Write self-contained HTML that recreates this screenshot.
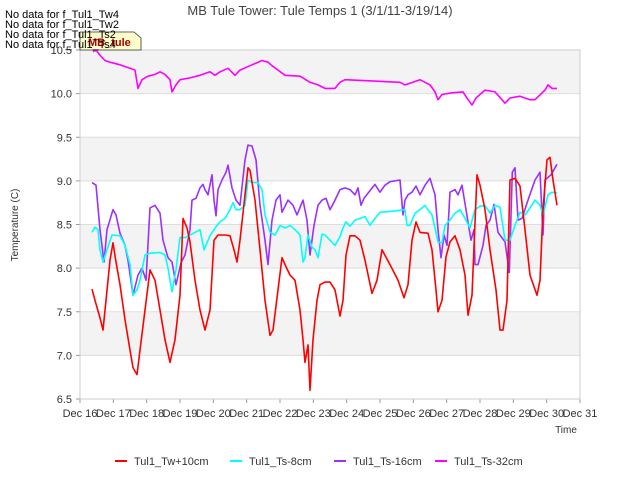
<!DOCTYPE html>
<html><head><meta charset="utf-8"><style>
body{margin:0;background:#fff;font-family:"Liberation Sans",sans-serif}
svg{display:block}
text{font-family:"Liberation Sans",sans-serif}
</style></head><body>
<svg id="c" width="640" height="480" xmlns="http://www.w3.org/2000/svg"></svg>
<script>
const xTicks=["Dec 16","Dec 17","Dec 18","Dec 19","Dec 20","Dec 21","Dec 22","Dec 23","Dec 24","Dec 25","Dec 26","Dec 27","Dec 28","Dec 29","Dec 30","Dec 31"];
const yTicks=[6.5,7.0,7.5,8.0,8.5,9.0,9.5,10.0,10.5];
const redDays=[.36,.45,.60,.69,.78,.90,.99,1.08,1.20,1.35,1.50,1.59,1.71,1.80,1.95,2.10,2.25,2.40,2.55,2.70,2.85,3.00,3.09,3.21,3.30,3.45,3.60,3.75,3.90,4.02,4.14,4.35,4.50,4.62,4.71,4.80,4.95,5.04,5.10,5.25,5.40,5.55,5.70,5.79,5.94,6.06,6.15,6.30,6.45,6.60,6.69,6.75,6.84,6.90,6.99,7.11,7.20,7.35,7.50,7.65,7.80,7.89,7.98,8.10,8.25,8.40,8.55,8.76,8.91,9.06,9.30,9.54,9.72,9.84,9.96,10.08,10.20,10.44,10.56,10.68,10.74,10.86,10.98,11.10,11.25,11.40,11.55,11.64,11.76,11.91,12.00,12.15,12.30,12.48,12.60,12.69,12.81,12.90,13.05,13.20,13.35,13.50,13.71,13.80,13.89,14.01,14.10,14.19,14.31];
const redVals=[7.76,7.63,7.43,7.29,7.63,8.09,8.29,8.07,7.81,7.41,7.06,6.86,6.78,7.06,7.52,7.98,7.86,7.52,7.18,6.92,7.18,7.69,8.57,8.46,8.30,7.86,7.52,7.29,7.52,8.32,8.38,8.38,8.37,8.21,8.07,8.32,8.84,9.15,9.12,8.78,8.21,7.63,7.23,7.29,7.75,8.12,8.04,7.92,7.86,7.52,7.18,6.92,7.12,6.60,7.18,7.63,7.81,7.84,7.84,7.75,7.45,7.63,8.15,8.37,8.37,8.32,8.09,7.71,7.86,8.21,8.04,7.86,7.66,7.81,8.32,8.53,8.41,8.40,8.21,7.75,7.50,7.63,8.13,8.30,8.37,8.21,7.92,7.46,7.69,9.07,8.95,8.67,8.21,7.75,7.29,7.29,7.63,9.01,9.03,8.94,8.44,7.92,7.69,7.86,8.67,9.24,9.27,9.01,8.72];
const cyanDays=[.36,.45,.54,.60,.69,.81,.96,1.20,1.35,1.50,1.59,1.71,1.80,1.95,2.10,2.40,2.55,2.64,2.76,2.88,3.00,3.15,3.45,3.60,3.72,3.90,4.05,4.20,4.35,4.50,4.59,4.68,4.80,4.95,5.04,5.16,5.34,5.46,5.55,5.70,5.85,6.00,6.15,6.30,6.45,6.60,6.69,6.75,6.84,6.96,7.05,7.14,7.26,7.35,7.50,7.65,7.80,7.89,7.98,8.10,8.25,8.40,8.55,8.70,8.85,9.00,9.30,9.75,9.81,9.90,10.05,10.20,10.35,10.44,10.56,10.68,10.74,10.86,10.95,11.10,11.25,11.40,11.55,11.70,11.85,12.00,12.15,12.30,12.45,12.60,12.75,12.90,13.05,13.20,13.35,13.50,13.65,13.80,13.89,14.04,14.16,14.31];
const cyanVals=[8.41,8.47,8.44,8.21,8.07,8.21,8.38,8.37,8.26,8.04,7.69,7.75,7.86,8.15,8.17,8.18,8.15,8.00,7.73,7.98,8.35,8.35,8.41,8.44,8.21,8.37,8.46,8.53,8.57,8.67,8.75,8.67,8.67,8.72,9.01,8.98,8.98,8.90,8.61,8.41,8.38,8.49,8.46,8.49,8.44,8.38,8.07,8.12,8.38,8.24,8.21,8.12,8.39,8.38,8.32,8.26,8.36,8.46,8.53,8.48,8.55,8.57,8.59,8.49,8.57,8.64,8.65,8.67,8.49,8.49,8.63,8.67,8.72,8.67,8.61,8.41,8.30,8.29,8.49,8.55,8.63,8.67,8.57,8.46,8.67,8.71,8.72,8.63,8.72,8.70,8.32,8.32,8.49,8.64,8.61,8.69,8.78,8.72,8.61,8.84,8.87,8.86];
const purpleDays=[.36,.48,.60,.72,.81,.99,1.08,1.20,1.35,1.44,1.59,1.74,1.86,1.98,2.10,2.25,2.40,2.49,2.64,2.76,2.88,3.03,3.15,3.30,3.36,3.48,3.60,3.69,3.75,3.84,3.96,4.02,4.08,4.14,4.26,4.38,4.44,4.56,4.68,4.80,4.95,5.04,5.16,5.28,5.40,5.55,5.64,5.76,5.88,6.00,6.06,6.24,6.39,6.51,6.69,6.81,6.90,7.02,7.14,7.26,7.38,7.50,7.65,7.80,7.95,8.10,8.25,8.34,8.43,8.52,8.85,9.00,9.15,9.30,9.60,9.69,9.75,9.84,9.96,10.08,10.20,10.35,10.50,10.65,10.74,10.83,10.92,11.01,11.10,11.25,11.34,11.46,11.64,11.73,11.82,11.85,11.94,12.09,12.18,12.30,12.42,12.54,12.75,12.88,12.97,13.05,13.14,13.26,13.44,13.65,13.80,13.89,13.95,14.13,14.31];
const purpleVals=[8.98,8.95,8.44,8.07,8.44,8.67,8.61,8.40,8.26,8.09,7.69,7.92,8.00,7.86,8.69,8.72,8.63,8.32,8.12,8.07,7.81,8.06,8.15,8.44,8.78,8.80,8.92,8.96,8.90,8.84,9.07,8.78,8.60,8.90,9.01,9.10,9.18,8.92,8.78,8.72,9.24,9.41,9.40,9.24,8.72,8.32,8.04,8.55,8.78,8.84,8.64,8.78,8.72,8.61,8.78,8.55,8.15,8.49,8.72,8.78,8.80,8.67,8.78,8.90,8.92,8.90,8.84,8.92,8.72,8.80,8.96,8.87,8.95,8.99,9.01,8.61,8.78,8.84,8.87,8.94,8.84,8.95,9.03,8.84,8.44,8.12,8.38,8.26,8.87,8.90,8.84,8.95,8.53,8.32,8.44,8.04,8.04,8.26,8.49,8.55,8.73,8.41,8.30,7.95,9.10,9.15,8.55,8.57,8.78,9.01,9.10,8.38,9.01,9.07,9.19];
const magDays=[.39,.48,.60,.75,.90,1.20,1.50,1.65,1.74,1.86,2.04,2.25,2.40,2.55,2.70,2.76,2.88,3.00,3.30,3.60,3.90,4.05,4.20,4.44,4.65,4.80,5.10,5.46,5.64,5.76,5.94,6.15,6.60,6.90,7.14,7.35,7.65,7.80,7.95,9.60,9.75,9.90,10.20,10.50,10.65,10.74,10.86,11.16,11.49,11.64,11.76,11.88,12.15,12.45,12.75,12.90,13.20,13.50,13.65,13.95,14.04,14.16,14.31];
const magVals=[10.48,10.50,10.44,10.38,10.36,10.33,10.29,10.27,10.06,10.16,10.20,10.22,10.25,10.22,10.16,10.02,10.10,10.16,10.18,10.21,10.25,10.21,10.25,10.29,10.21,10.27,10.32,10.38,10.36,10.32,10.27,10.21,10.20,10.13,10.10,10.06,10.06,10.13,10.16,10.13,10.10,10.12,10.16,10.10,10.02,9.93,9.99,10.01,10.02,9.93,9.87,9.95,10.04,10.02,9.89,9.95,9.97,9.93,9.93,10.04,10.10,10.06,10.06];

const L=80,R=580,T=50,B=399;
const X=d=>L+d*(R-L)/15;
const Y=v=>B-(v-6.5)*(B-T)/4;
const svg=document.getElementById('c');
const NS='http://www.w3.org/2000/svg';
function mk(tag,attrs,parent){const e=document.createElementNS(NS,tag);for(const k in attrs)e.setAttribute(k,attrs[k]);(parent||svg).appendChild(e);return e;}
// bands
for(let v=7.0;v<10.5;v+=1.0){
  const r=mk('rect',{x:L,y:Y(v+0.5),width:R-L,height:Y(v)-Y(v+0.5),fill:'#f3f3f3'});
  
  
}
mk('rect',{x:L,y:Y(10.5)-0,width:R-L,height:0,fill:'none'});
yTicks.forEach(v=>{
  const g=mk('line',{x1:L,x2:R,y1:Y(v),y2:Y(v),stroke:'#dddddd','stroke-width':1});
  
  
  const tk=mk('line',{x1:L-4,x2:L,y1:Y(v),y2:Y(v),stroke:'#999'});
  
  
  const t=mk('text',{x:L-8,y:Y(v)+4,'text-anchor':'end','font-size':11,fill:'#333'});
  t.textContent=v.toFixed(1);
  
  
});
xTicks.forEach((s,i)=>{
  const tk=mk('line',{x1:X(i),x2:X(i),y1:B,y2:B+4,stroke:'#999'});
  
  
  const t=mk('text',{x:X(i),y:B+18,'text-anchor':'middle','font-size':11,fill:'#333'});
  t.textContent=s;
  
  
});
const fr=mk('rect',{x:L,y:T,width:R-L,height:B-T,fill:'none',stroke:'#cccccc'});


function series(days,vals,color,name){
  const p=mk('polyline',{points:days.map((d,i)=>X(d).toFixed(1)+','+Y(vals[i]).toFixed(1)).join(' '),fill:'none',stroke:color,'stroke-width':1.6,'stroke-linejoin':'round'});
  
  
}
series(magDays,magVals,'#ff00ff','series-ts-32cm');
series(purpleDays,purpleVals,'#9b30ff','series-ts-16cm');
series(cyanDays,cyanVals,'#00ffff','series-ts-8cm');
series(redDays,redVals,'#ff0000','series-tw-10cm');
</script>
<svg width="640" height="480" style="position:absolute;left:0;top:0" xmlns="http://www.w3.org/2000/svg">
<text x="320" y="15" text-anchor="middle" font-size="13" fill="#444">MB Tule Tower: Tule Temps 1 (3/1/11-3/19/14)</text>
<text x="18" y="225" text-anchor="middle" font-size="10" fill="#333" transform="rotate(-90 18 225)">Temperature (C)</text>
<text x="566" y="433" text-anchor="middle" font-size="10" fill="#333">Time</text>
<path d="M80 32 H134 L141 38 V50 H80 Z" fill="#ffffcc" stroke="#333" stroke-width="0.8"/>
<text x="88" y="46" font-size="11" font-weight="bold" fill="#aa0000">MB_tule</text>
<text x="5" y="18" font-size="11" fill="#000">No data for f_Tul1_Tw4</text>
<text x="5" y="28" font-size="11" fill="#000">No data for f_Tul1_Tw2</text>
<text x="5" y="38" font-size="11" fill="#000">No data for f_Tul1_Ts2</text>
<text x="5" y="48" font-size="11" fill="#000">No data for f_Tul1_Ts4</text>
<g font-size="11" fill="#333">
<line x1="115" x2="127" y1="461" y2="461" stroke="#ff0000" stroke-width="2"/>
<text x="134" y="465">Tul1_Tw+10cm</text>
<line x1="230" x2="242" y1="461" y2="461" stroke="#00ffff" stroke-width="2"/>
<text x="249" y="465">Tul1_Ts-8cm</text>
<line x1="334" x2="346" y1="461" y2="461" stroke="#9b30ff" stroke-width="2"/>
<text x="353" y="465">Tul1_Ts-16cm</text>
<line x1="435" x2="447" y1="461" y2="461" stroke="#ff00ff" stroke-width="2"/>
<text x="454" y="465">Tul1_Ts-32cm</text>
</g>
</svg>
</body></html>
